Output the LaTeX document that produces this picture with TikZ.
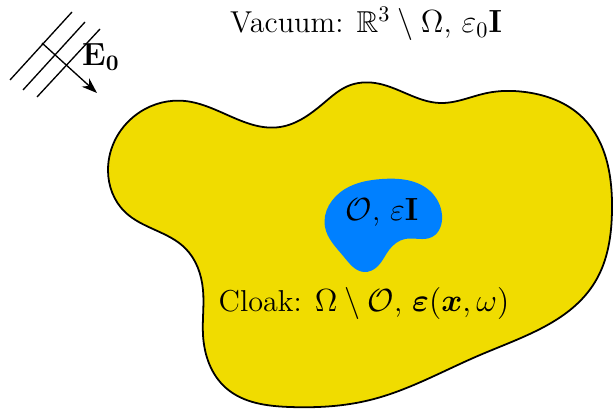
\documentclass[tikz,border=0pt]{standalone}
\usepackage{amsmath,amssymb,bm}
\usepackage{tikz}
\usetikzlibrary{arrows.meta, hobby}
\definecolor{cloakyellow}{RGB}{240,220,0}
\definecolor{objblue}{RGB}{0,128,255}
\tikzstyle{label} = [font=\fontsize{13.6}{16}\selectfont, inner sep=1pt]
\tikzstyle{wave} = [semithick]
\tikzstyle{arrow} = [semithick, -{Stealth[length=7pt,width=5pt]}]

\begin{document}
\begin{tikzpicture}[x=0.45pt, y=-0.45pt]
  \useasboundingbox (0,0) rectangle (615,409);
  % cloak region
  \draw[thick, fill=cloakyellow, use Hobby shortcut, closed=true]
    (108,170) .. (140,112) .. (185,101) .. (280,127) .. (325,102) .. (348,86)
    .. (375,83) .. (440,103) .. (487,93) .. (525,92) .. (582,117) .. (612,210)
    .. (595,282) .. (480,355) .. (370,400) .. (290,407) .. (226,388) .. (203,335)
    .. (203,290) .. (185,248) .. (125,212);
  % object
  \fill[objblue, use Hobby shortcut, closed=true]
    (325,227) .. (345,189) .. (382,179) .. (430,191) .. (442,215) .. (432,237)
    .. (405,239) .. (389,250) .. (378,266) .. (364,272) .. (344,257);
  % incident field
  \coordinate (w1a) at (10,80);  \coordinate (w1b) at (72,12);
  \coordinate (w2a) at (23,90);  \coordinate (w2b) at (85,22);
  \coordinate (w3a) at (37,97);  \coordinate (w3b) at (100,29);
  \draw[wave] (w1a) -- (w1b);
  \draw[wave] (w2a) -- (w2b);
  \draw[wave] (w3a) -- (w3b);
  \coordinate (estart) at (42,43);
  \coordinate (eend) at (97,93);
  \draw[arrow] (estart) -- (eend);
  \node[label] (efield) at (101,57) {$\mathbf{E_0}$};
  % labels
  \node[label] (vacuum) at (366,24) {Vacuum: $\mathbb{R}^3\setminus\Omega$, $\varepsilon_0\mathbf{I}$};
  \node[label] (object) at (382,212) {$\mathcal{O}$, $\varepsilon\mathbf{I}$};
  \node[label] (cloak) at (364,303) {Cloak: $\Omega\setminus\mathcal{O}$, $\bm{\varepsilon}(\bm{x},\omega)$};
\end{tikzpicture}
\end{document}
